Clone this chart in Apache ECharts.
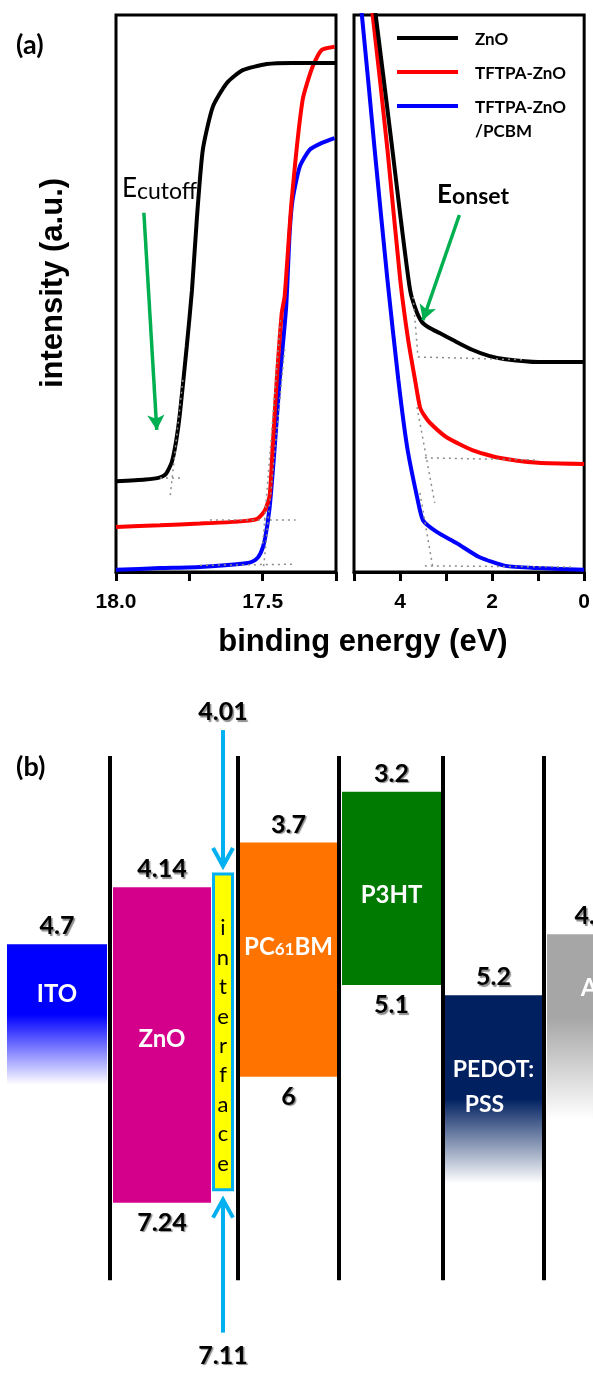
<!DOCTYPE html>
<html><head><meta charset="utf-8">
<script src="https://cdn.jsdelivr.net/npm/echarts@6/dist/echarts.min.js"></script>
<style>html,body{margin:0;padding:0;background:#fff}#c{width:593px;height:1382px}</style>
</head><body><div id="c"></div>
<script>
// ================= DATA =================
// (a) UPS spectra: [binding energy (eV), intensity (a.u., 0-100 of frame)]
const seriesNames = ['ZnO', 'TFTPA-ZnO', 'TFTPA-ZnO /PCBM'];
const znoCutoff = [[18.0,16.3],[17.9,16.6],[17.85,17.0],[17.83,17.6],[17.81,19.7],[17.795,23.5],[17.782,28.5],[17.759,40.4],[17.741,50.6],[17.724,63.7],[17.704,75.8],[17.67,83.5],[17.622,87.8],[17.568,90.1],[17.486,91.2],[17.4,91.4],[17.25,91.4]];
const tftpaCutoff = [[18.0,8.1],[17.85,8.4],[17.714,8.7],[17.6,9.0],[17.52,9.5],[17.493,11.0],[17.476,13.8],[17.466,22.4],[17.452,34.5],[17.435,46.5],[17.425,49.5],[17.401,66.8],[17.364,84.7],[17.33,90.7],[17.299,93.7],[17.255,94.3]];
const pcbmCutoff = [[18.0,0.4],[17.85,0.7],[17.714,0.9],[17.55,1.6],[17.524,2.2],[17.507,3.4],[17.493,5.7],[17.476,11.7],[17.459,22.4],[17.442,34.5],[17.42,47.5],[17.408,60.9],[17.398,66.8],[17.374,72.7],[17.34,75.8],[17.3,77.0],[17.255,77.9]];
const znoOnset = [[4.594,102.7],[4.529,100],[4.166,75.8],[3.995,64.1],[3.781,50.6],[3.652,47.0],[3.524,44.9],[3.353,43.8],[3.139,42.9],[2.818,41.5],[2.433,39.9],[2.07,38.8],[1.706,38.2],[1.0,37.7],[0,37.7]];
const tftpaOnset = [[4.658,102.7],[4.594,100],[4.273,75.8],[3.995,52.4],[3.824,41.7],[3.674,34.5],[3.567,29.6],[3.481,28.2],[3.353,26.8],[2.989,24.2],[2.433,21.9],[1.856,20.5],[1.0,19.6],[0,19.4]];
const pcbmOnset = [[4.893,102.7],[4.829,100],[4.551,75.8],[4.273,52.4],[4.037,34.5],[3.845,22.4],[3.631,13.5],[3.503,9.3],[3.203,7.2],[2.775,5.2],[2.283,2.7],[1.706,1.1],[1.0,0.7],[0,0.4]];
// fit lines (dotted): pairs of [energy, intensity]
const cutoffFits = [
  [[17.85,17.0],[17.78,17.0]], [[17.772,34.5],[17.816,13.3]],
  [[17.68,9.4],[17.388,9.4]], [[17.439,45.2],[17.50,4.8]],
  [[17.714,1.2],[17.388,1.4]], [[17.425,40],[17.497,0.8]]
];
const onsetFits = [
  [[3.717,49.4],[3.61,38.6]], [[3.61,38.6],[1.278,38.1]],
  [[3.631,29.6],[3.246,12.4]], [[3.46,20.5],[1.0,20.1]],
  [[3.567,14.2],[3.289,0.9]], [[3.46,1.1],[0.294,0.9]]
];
const cutoffArrow = [[17.905,64.5],[17.861,25.5]];
const onsetArrow = [[2.711,64.1],[3.503,45.2]];
const cutoffTicks = [18.0, 17.5];
const onsetTicks = [4, 2, 0];

// (b) energy levels (eV)
const layers = ['ITO','ZnO','interface','PC61BM','P3HT','PEDOT:PSS','Al'];
const upperLevel = [4.7, 4.14, 4.01, 3.7, 3.2, 5.2, 4.6];
const lowerLevel = [null, 7.24, 7.11, 6.0, 5.1, null, null];

// ================= LAYOUT / STYLE =================
const colSpan = [[7,107],[113,211],[212,234],[240,337],[342,441],[445,542],[547,637]];
const dividerX = [110,238,339,443,544];
const dividerRange = [2.85, 8.0];
const layerColor = ['#0000ff','#d4008c','#ffff00','#ff7300','#007a00','#002060','#a6a6a6'];
const fade = [{end:6.08, solid:0.5}, null, null, null, null, {end:7.05, solid:0.55}, {end:6.42, solid:0.45}];
const nameE = [5.19, 5.63, null, 4.73, 4.22, 5.93, 5.13];
const lineColors = ['#000000','#ff0000','#0000ff'];
const AR = 'Liberation Sans, Arial, sans-serif';
const CAL = 'Lato, sans-serif';

const chart = echarts.init(document.getElementById('c'));

const dotStyle = {type:[2,4], color:'#8c8c8c', width:1.5};
function fitLines(pairs){
  return {silent:true, symbol:['none','none'], label:{show:false}, animation:false,
    lineStyle:dotStyle, emphasis:{disabled:true},
    data: pairs.map(p => [{coord:p[0]},{coord:p[1]}])};
}
function arrowLine(a){
  return [{coord:a[0], symbol:'none'},{coord:a[1], symbol:'arrow', symbolSize:[13,15]}];
}

const labelFmt = (ticks, dec) => v => ticks.some(t => Math.abs(t - v) < 1e-6) ? v.toFixed(dec) : '';
function bottomAxis(grid, min, max, interval, ticks, dec){
  return {gridIndex:grid, type:'value', min, max, interval, inverse:true,
    axisLine:{show:true, lineStyle:{color:'#000', width:3}},
    axisTick:{show:true, length:9, lineStyle:{color:'#000', width:3}},
    splitLine:{show:false},
    axisLabel:{margin:20, color:'#000', fontFamily:AR, fontWeight:'bold', fontSize:21, formatter: labelFmt(ticks, dec)}};
}

function lineSeries(idx, xi, data, fits){
  return {type:'line', name:seriesNames[idx], xAxisIndex:xi, yAxisIndex:xi, data, symbol:'none',
    smooth:0.2, clip:true, lineStyle:{color:lineColors[idx], width:4}, itemStyle:{color:lineColors[idx]},
    z: 3 - idx, markLine: fitLines(fits)};
}

function num(text, x, y){
  return {type:'text', style:{text, x, y, align:'center', verticalAlign:'middle', fill:'#000',
    font:'bold 25px ' + CAL, textShadowColor:'rgba(0,0,0,0.45)', textShadowOffsetX:1.5, textShadowOffsetY:1.5, textShadowBlur:1}};
}
function chevron(x, tip, dir){ // dir=+1 pointing down, -1 pointing up
  return {type:'polyline', shape:{points:[[x-10, tip - dir*18],[x, tip],[x+10, tip - dir*18]]},
    style:{stroke:'#00b0f0', lineWidth:4, fill:null, lineJoin:'miter'}};
}

function renderLayer(params, api){
  const i = api.value(0);
  const up = api.value(1);
  const lo = api.value(2);
  const hasLow = lo != null && !isNaN(lo);
  const span = colSpan[i];
  const pTL = api.coord([span[0], up]);
  const pTR = api.coord([span[1], up]);
  const botE = hasLow ? lo : fade[i].end;
  const pB = api.coord([span[0], botE]);
  const X0 = pTL[0], X1 = pTR[0], Y0 = pTL[1], Y1 = pB[1];
  const cx = (X0 + X1) / 2;
  const ch = [];
  const col = layerColor[i];
  if (layers[i] === 'interface'){
    ch.push({type:'rect', shape:{x:X0+1.5, y:Y0, width:X1-X0-3, height:Y1-Y0}, style:{fill:col, stroke:'#00b0f0', lineWidth:3}});
    const letters = 'interface'.split('');
    const step = 29.4, mid = (Y0 + Y1) / 2 + 14;
    letters.forEach((c, k) => ch.push({type:'text', style:{text:c, x:cx, y: mid + (k - 4) * step, align:'center', verticalAlign:'middle', fill:'#000', font:'22px ' + CAL}}));
    ch.push({type:'line', shape:{x1:cx, y1:Y0-144, x2:cx, y2:Y0-8}, style:{stroke:'#00b0f0', lineWidth:4}});
    ch.push(chevron(cx, Y0-8, 1));
    ch.push(num(String(up), cx, Y0-162));
    ch.push({type:'line', shape:{x1:cx, y1:Y1+143, x2:cx, y2:Y1+10}, style:{stroke:'#00b0f0', lineWidth:4}});
    ch.push(chevron(cx, Y1+10, -1));
    ch.push(num(String(lo), cx, Y1+166));
    return {type:'group', children:ch};
  }
  let fill = col;
  if (!hasLow){
    fill = new echarts.graphic.LinearGradient(0,0,0,1,[{offset:0,color:col},{offset:fade[i].solid,color:col},{offset:1,color:'#ffffff'}]);
  }
  ch.push({type:'rect', shape:{x:X0, y:Y0, width:X1-X0, height:Y1-Y0}, style:{fill}});
  ch.push(num(String(up), cx, Y0 - 18));
  if (hasLow) ch.push(num(String(lo), cx, Y1 + 20));
  const ny = api.coord([span[0], nameE[i]])[1];
  const nameFont = 'bold 24px ' + CAL;
  if (layers[i] === 'PEDOT:PSS'){
    ch.push({type:'text', style:{text:'PEDOT:', x:cx, y:ny, align:'center', verticalAlign:'middle', fill:'#fff', font:'bold 23px ' + CAL}});
    ch.push({type:'text', style:{text:'PSS', x:cx-9, y:ny+35, align:'center', verticalAlign:'middle', fill:'#fff', font:'bold 23px ' + CAL}});
  } else if (layers[i] === 'PC61BM'){
    ch.push({type:'text', style:{text:'{a|PC}{b|61}{a|BM}', x:cx, y:ny, align:'center', verticalAlign:'middle', fill:'#fff',
      rich:{a:{fontFamily:CAL, fontWeight:'bold', fontSize:24, fill:'#fff', color:'#fff'}, b:{fontFamily:CAL, fontWeight:'bold', fontSize:17, fill:'#fff', color:'#fff', padding:[4,0,0,0]}}}});
  } else {
    ch.push({type:'text', style:{text:layers[i], x:cx, y:ny, align:'center', verticalAlign:'middle', fill:'#fff', font:nameFont}});
  }
  return {type:'group', children:ch};
}

function renderDividers(params, api){
  return {type:'group', children: dividerX.map(x => {
    const a = api.coord([x, dividerRange[0]]), b = api.coord([x, dividerRange[1]]);
    return {type:'line', shape:{x1:a[0], y1:a[1], x2:b[0], y2:b[1]}, style:{stroke:'#000', lineWidth:4}};
  })};
}

const legendItems = [
  {name:'ZnO', y:38}, {name:'TFTPA-ZnO', y:72}, {name:'TFTPA-ZnO\n/PCBM', y:106}
];
const graphics = [];
legendItems.forEach((it, k) => {
  graphics.push({type:'line', shape:{x1:397, y1:it.y, x2:458, y2:it.y}, style:{stroke:lineColors[k], lineWidth:4}, z:10});
  graphics.push({type:'text', x:475, y:it.y - 10, style:{text:it.name, fill:'#000', font:'bold 17px ' + CAL, lineHeight:24, align:'left', verticalAlign:'top'}, z:10});
});
graphics.push(
  {type:'text', x:16, y:45, style:{text:'(a)', fill:'#000', font:'bold 27px ' + CAL, align:'left', verticalAlign:'middle'}},
  {type:'text', x:16, y:767, style:{text:'(b)', fill:'#000', font:'bold 27px ' + CAL, align:'left', verticalAlign:'middle'}},
  {type:'text', x:363, y:642, style:{text:'binding energy (eV)', fill:'#000', font:'bold 31px ' + AR, align:'center', verticalAlign:'middle'}},
  {type:'text', x:53, y:283, rotation:Math.PI/2, style:{text:'intensity (a.u.)', fill:'#000', font:'bold 31px ' + AR, align:'center', verticalAlign:'middle'}},
  {type:'text', x:122, y:189, style:{text:'{e|E}{s|cutoff}', align:'left', verticalAlign:'middle',
    rich:{e:{fontFamily:CAL, fontSize:26, color:'#000', fill:'#000'}, s:{fontFamily:CAL, fontSize:23, color:'#000', fill:'#000', padding:[5,0,0,0]}}}},
  {type:'text', x:437, y:195, style:{text:'{e|E}{s|onset}', align:'left', verticalAlign:'middle',
    rich:{e:{fontFamily:CAL, fontWeight:'bold', fontSize:26, color:'#000', fill:'#000'}, s:{fontFamily:CAL, fontWeight:'bold', fontSize:23, color:'#000', fill:'#000', padding:[4,0,0,0]}}}}
);

const option = {
  animation:false,
  backgroundColor:'#fff',
  grid:[
    {left:116, top:15, width:220, height:557, show:true, borderColor:'#000', borderWidth:3, backgroundColor:'rgba(0,0,0,0)'},
    {left:354, top:15, width:233, height:557, show:true, borderColor:'#000', borderWidth:3, backgroundColor:'rgba(0,0,0,0)'},
    {left:0, top:669.5, width:593, height:724.5}
  ],
  xAxis:[
    bottomAxis(0, 17.25, 18, 0.25, cutoffTicks, 1),
    bottomAxis(1, 0, 5, 1, onsetTicks, 0),
    {gridIndex:2, type:'value', min:0, max:593, show:false}
  ],
  yAxis:[
    {gridIndex:0, type:'value', min:0, max:100, show:false},
    {gridIndex:1, type:'value', min:0, max:100, show:false},
    {gridIndex:2, type:'value', min:2, max:9, inverse:true, show:false}
  ],
  series:[
    lineSeries(0, 0, znoCutoff, cutoffFits.slice(0,2)),
    lineSeries(1, 0, tftpaCutoff, cutoffFits.slice(2,4)),
    lineSeries(2, 0, pcbmCutoff, cutoffFits.slice(4,6)),
    lineSeries(0, 1, znoOnset, onsetFits.slice(0,2)),
    lineSeries(1, 1, tftpaOnset, onsetFits.slice(2,4)),
    lineSeries(2, 1, pcbmOnset, onsetFits.slice(4,6)),
    {type:'line', xAxisIndex:0, yAxisIndex:0, data:[], silent:true,
      markLine:{silent:true, label:{show:false}, lineStyle:{color:'#00b050', width:3.5, type:'solid'}, data:[arrowLine(cutoffArrow)]}},
    {type:'line', xAxisIndex:1, yAxisIndex:1, data:[], silent:true,
      markLine:{silent:true, label:{show:false}, lineStyle:{color:'#00b050', width:3.5, type:'solid'}, data:[arrowLine(onsetArrow)]}},
    {type:'custom', xAxisIndex:2, yAxisIndex:2, renderItem:renderLayer, silent:true,
      data: layers.map((n, i) => [i, upperLevel[i], lowerLevel[i] == null ? NaN : lowerLevel[i]])},
    {type:'custom', xAxisIndex:2, yAxisIndex:2, renderItem:renderDividers, silent:true, data:[[0, 2.85]]}
  ],
  graphic: graphics
};
chart.setOption(option);
</script></body></html>
